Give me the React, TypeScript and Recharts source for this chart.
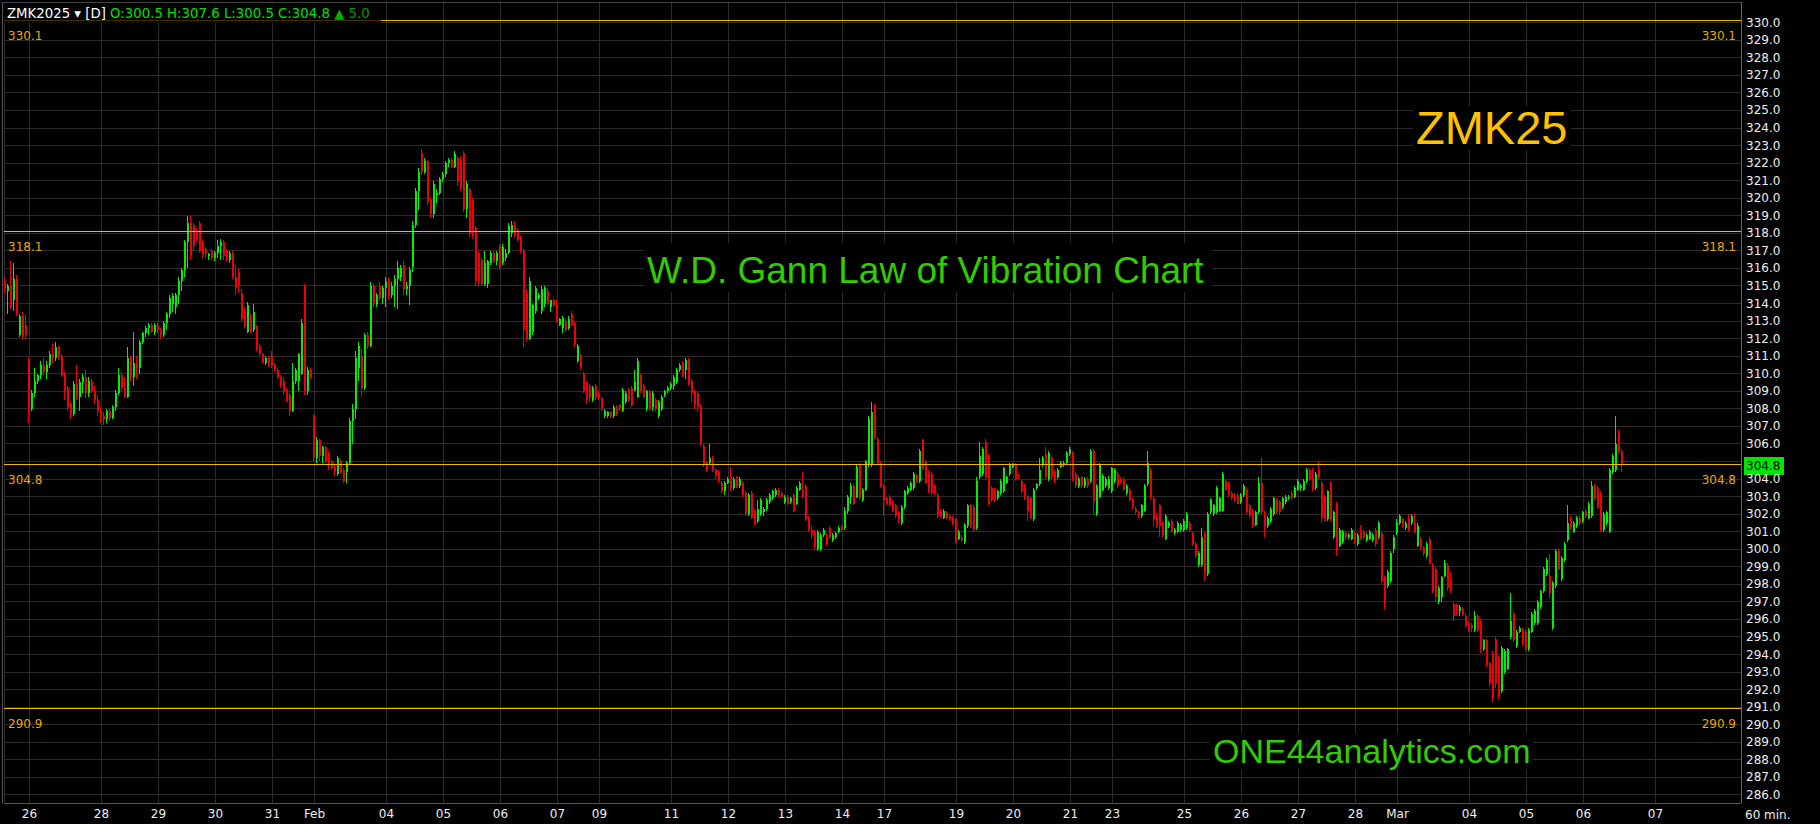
import React from "react";
import { ComposedChart, Bar, XAxis, YAxis, CartesianGrid, ReferenceLine } from "recharts";

type Ohlc = [number, number, number, number];

// 60 min bars per session: [open, high, low, close]
const jan24: Ohlc[] = [
  [315.3, 315.5, 314.6, 314.9], [314.7, 315.1, 313.4, 315.0], [315.0, 316.4, 313.7, 313.8], [314.2, 316.3, 313.6, 315.4],
  [315.4, 315.6, 313.3, 313.4], [312.2, 313.4, 312.1, 313.3], [313.3, 313.5, 312.0, 312.1], [312.8, 313.4, 312.0, 312.2],
];
const jan26: Ohlc[] = [
  [310.8, 310.9, 307.2, 308.0], [308.0, 309.1, 307.9, 308.9], [308.9, 310.3, 308.7, 309.6], [309.6, 310.0, 309.4, 309.9],
  [309.9, 310.7, 309.7, 310.5], [310.5, 310.9, 309.9, 310.1], [310.1, 310.7, 309.7, 310.5], [310.5, 311.3, 310.3, 311.1],
  [311.1, 311.7, 310.6, 310.9], [310.9, 311.8, 310.7, 311.5], [311.5, 311.6, 310.8, 311.0], [311.0, 311.1, 309.8, 309.9],
  [310.0, 310.1, 308.5, 309.0], [309.2, 309.3, 307.9, 308.1], [308.3, 308.4, 307.4, 307.7], [307.7, 309.6, 307.6, 309.4],
  [309.4, 310.5, 308.5, 308.7], [308.7, 309.7, 307.9, 309.5], [309.5, 310.0, 308.9, 309.8], [309.8, 310.2, 308.6, 308.9],
  [308.9, 309.8, 308.7, 309.6], [309.6, 309.7, 308.9, 309.0], [309.0, 309.3, 308.3, 308.5], [308.5, 308.8, 307.6, 307.9],
];
const jan28: Ohlc[] = [
  [307.9, 308.1, 307.2, 307.6], [307.6, 307.8, 307.1, 307.4], [307.4, 308.0, 307.2, 307.9], [307.9, 308.0, 307.3, 307.5],
  [307.5, 308.2, 307.4, 308.1], [308.1, 309.1, 307.9, 308.9], [308.9, 310.3, 308.8, 309.9], [309.9, 310.1, 309.0, 309.2],
  [309.2, 309.8, 308.6, 308.7], [308.7, 311.5, 308.6, 310.9], [310.9, 311.0, 309.6, 309.8], [309.8, 312.4, 309.3, 310.6],
  [310.6, 311.0, 309.7, 310.3], [310.3, 311.9, 310.0, 311.8], [311.8, 312.4, 311.7, 312.3], [312.3, 312.7, 312.1, 312.6],
  [312.6, 312.9, 312.2, 312.8], [312.8, 312.9, 312.3, 312.4], [312.4, 312.9, 312.2, 312.8],
];
const jan29: Ohlc[] = [
  [312.8, 312.9, 312.3, 312.5], [312.5, 312.6, 312.0, 312.2], [312.2, 313.0, 312.1, 312.9], [312.9, 313.5, 312.5, 313.4],
  [313.4, 314.5, 313.2, 314.3], [314.0, 314.6, 313.5, 314.4], [313.8, 314.6, 313.4, 314.5], [314.5, 315.5, 314.0, 315.3],
  [315.3, 316.0, 314.7, 315.9], [315.9, 317.6, 315.5, 317.5], [317.5, 319.0, 316.0, 318.6], [318.6, 319.0, 316.5, 316.7],
  [318.5, 318.6, 317.0, 317.3], [318.2, 318.3, 317.5, 317.6], [318.6, 318.7, 316.9, 317.0], [317.5, 317.6, 316.6, 316.8],
  [317.1, 317.2, 316.6, 316.8], [316.7, 316.9, 316.5, 316.8], [317.0, 317.1, 316.5, 316.6],
];
const jan30: Ohlc[] = [
  [316.6, 317.0, 316.4, 316.9], [316.9, 317.6, 316.6, 317.3], [317.3, 317.7, 316.5, 317.5], [317.5, 317.6, 316.5, 316.7],
  [317.0, 317.1, 316.4, 316.5], [316.5, 317.0, 316.3, 316.9], [316.9, 317.0, 315.4, 315.5], [315.5, 316.2, 314.5, 314.9],
  [315.8, 316.0, 314.6, 315.0], [314.6, 314.8, 313.0, 313.1], [313.6, 313.8, 312.6, 312.7], [312.4, 314.1, 312.3, 313.9],
  [313.3, 313.4, 312.3, 312.4], [312.5, 314.0, 312.4, 313.5], [312.7, 312.8, 311.3, 311.4], [311.6, 311.7, 311.0, 311.1],
  [311.1, 311.2, 310.6, 310.6], [310.6, 311.0, 310.5, 310.9], [310.9, 311.0, 310.4, 310.5],
];
const jan31: Ohlc[] = [
  [311.0, 311.3, 310.3, 310.5], [310.5, 310.6, 310.1, 310.2], [310.2, 310.3, 309.7, 309.8], [309.8, 309.9, 309.2, 309.3],
  [309.6, 309.8, 308.8, 309.0], [309.1, 309.2, 308.4, 308.4], [308.8, 308.9, 307.6, 307.9], [307.9, 310.6, 307.8, 309.6],
  [309.6, 310.3, 309.4, 310.2], [309.6, 311.2, 309.0, 311.1], [310.0, 313.1, 309.9, 312.9], [315.0, 315.1, 308.8, 309.0],
  [309.0, 310.4, 308.8, 310.2], [310.2, 310.3, 309.7, 309.8],
];
const feb2: Ohlc[] = [
  [307.6, 307.7, 305.0, 305.2], [305.2, 306.4, 304.9, 306.2], [306.2, 306.3, 305.0, 305.3], [305.3, 305.9, 304.9, 305.8],
  [305.8, 305.9, 304.9, 305.0], [305.4, 305.6, 304.5, 304.8], [305.0, 305.1, 304.5, 304.6], [304.7, 304.9, 304.2, 304.4],
  [304.3, 305.3, 304.2, 305.2], [305.0, 305.1, 304.3, 304.4], [304.5, 304.6, 303.8, 303.9], [304.4, 305.0, 303.8, 304.9],
  [304.9, 307.5, 304.8, 307.3], [307.3, 308.3, 306.0, 308.0], [308.0, 311.3, 307.4, 310.9], [310.3, 311.8, 309.6, 311.6],
  [311.0, 311.4, 308.7, 309.2], [309.2, 312.3, 309.1, 312.2], [312.2, 312.4, 311.4, 311.6], [311.6, 315.2, 311.5, 315.0],
  [315.0, 315.1, 313.8, 314.0], [314.0, 314.6, 313.8, 314.5], [315.0, 315.2, 314.2, 314.3], [314.3, 315.0, 314.0, 314.9],
];
const feb4: Ohlc[] = [
  [314.9, 315.5, 313.8, 315.3], [315.3, 315.5, 314.2, 314.5], [314.5, 315.2, 314.3, 315.0], [315.0, 315.6, 313.8, 315.4],
  [315.4, 316.4, 313.7, 316.0], [315.5, 316.2, 315.3, 316.0], [316.2, 316.4, 314.5, 314.8], [314.8, 315.2, 314.5, 315.0],
  [315.0, 316.1, 313.9, 315.9], [316.1, 318.7, 315.8, 318.5], [318.5, 320.6, 318.3, 320.4], [320.4, 321.7, 319.3, 321.5],
  [322.6, 322.8, 321.3, 321.5], [321.5, 322.3, 321.4, 322.1], [322.1, 322.2, 319.6, 319.8], [319.9, 320.0, 318.9, 319.1],
  [319.1, 321.0, 318.9, 320.8], [320.2, 320.5, 319.7, 320.3], [320.3, 321.2, 320.2, 321.1],
];
const feb5: Ohlc[] = [
  [321.1, 321.5, 320.9, 321.4], [321.4, 322.1, 321.2, 322.0], [322.0, 322.3, 321.8, 322.2], [322.2, 322.3, 321.7, 321.8],
  [321.8, 322.7, 321.7, 322.5], [322.3, 322.4, 320.7, 320.9], [322.2, 322.4, 320.4, 320.6], [322.6, 322.7, 319.2, 319.4],
  [319.4, 321.0, 318.9, 320.8], [320.5, 320.6, 317.8, 318.0], [319.9, 320.0, 317.7, 317.9], [318.3, 318.4, 315.0, 315.3],
  [316.9, 317.0, 315.0, 315.2], [316.5, 316.6, 315.0, 315.1], [315.1, 317.0, 315.0, 316.3], [315.1, 316.5, 314.9, 316.4],
  [316.3, 317.0, 316.2, 316.9], [316.9, 317.0, 316.3, 316.4], [316.4, 317.0, 316.2, 316.9],
];
const feb6: Ohlc[] = [
  [317.3, 317.4, 315.9, 316.1], [316.3, 317.4, 316.2, 317.2], [316.6, 317.1, 316.4, 316.9], [316.9, 318.6, 316.8, 318.4],
  [318.0, 318.7, 317.8, 318.5], [318.5, 318.7, 317.8, 317.9], [318.2, 318.3, 317.5, 317.6], [317.8, 317.9, 316.9, 317.0],
  [317.0, 317.1, 311.5, 312.5], [314.6, 314.8, 311.8, 312.0], [312.0, 315.5, 311.9, 315.3], [312.4, 314.0, 312.2, 313.9],
  [313.6, 315.0, 313.4, 314.9], [314.3, 314.6, 314.2, 314.5], [313.6, 315.0, 313.4, 314.8], [314.0, 315.0, 313.8, 314.9],
  [314.7, 314.9, 313.9, 314.0], [313.8, 314.2, 313.5, 314.2], [314.2, 314.3, 313.8, 313.9],
];
const feb7: Ohlc[] = [
  [313.9, 314.2, 312.9, 313.0], [312.8, 313.2, 312.7, 313.1], [312.6, 313.3, 312.3, 313.2], [313.0, 313.2, 312.4, 312.5],
  [312.6, 313.3, 312.5, 313.1], [313.4, 313.6, 312.7, 312.8], [312.9, 313.0, 311.5, 311.7], [310.7, 311.7, 310.6, 311.6],
  [311.0, 311.1, 310.2, 310.3], [310.0, 310.1, 308.9, 309.0], [309.5, 309.6, 308.3, 308.5], [309.3, 309.4, 308.4, 308.6],
  [308.5, 309.3, 308.4, 309.2], [309.3, 309.4, 308.5, 308.6],
];
const feb9: Ohlc[] = [
  [308.9, 309.0, 308.5, 308.6], [308.6, 308.7, 307.9, 308.0], [307.6, 308.0, 307.5, 307.9], [307.6, 307.9, 307.5, 307.8],
  [307.8, 307.9, 307.5, 307.6], [307.6, 308.2, 307.5, 308.1], [308.1, 308.2, 307.6, 307.7], [308.2, 308.3, 307.9, 308.0],
  [307.9, 309.2, 307.8, 309.1], [308.4, 309.0, 308.3, 308.9], [309.1, 309.2, 308.4, 308.5], [309.2, 309.3, 308.1, 308.2],
  [309.1, 310.2, 309.0, 309.5], [308.7, 310.9, 308.6, 310.7], [309.9, 310.0, 308.9, 309.0], [309.3, 309.4, 308.6, 308.7],
  [308.0, 309.1, 307.9, 309.0], [309.0, 309.1, 307.9, 308.0], [308.1, 309.0, 307.9, 308.9], [308.5, 308.6, 307.9, 308.0],
  [307.6, 308.5, 307.5, 308.4], [308.0, 308.8, 307.9, 308.7], [308.8, 309.1, 308.7, 309.0], [309.0, 309.3, 308.9, 309.2],
];
const feb11: Ohlc[] = [
  [309.2, 309.5, 309.1, 309.4], [309.3, 309.9, 309.1, 309.8], [309.5, 310.3, 309.4, 310.2], [310.2, 310.6, 310.1, 310.5],
  [310.6, 310.7, 309.8, 309.9], [310.2, 310.9, 309.7, 310.8], [310.8, 310.9, 309.3, 309.4], [309.6, 309.7, 308.4, 308.9],
  [309.0, 309.1, 308.0, 308.2], [308.9, 309.0, 307.8, 308.1], [308.1, 308.3, 305.9, 306.0], [305.9, 306.0, 304.7, 304.8],
  [304.9, 305.0, 304.4, 304.5], [304.9, 306.0, 304.8, 305.2], [305.2, 305.3, 304.4, 304.5], [304.5, 304.6, 304.0, 304.2],
  [304.4, 304.5, 303.8, 303.9], [303.8, 303.9, 303.2, 303.3], [303.3, 303.9, 303.1, 303.8],
];
const feb12: Ohlc[] = [
  [303.8, 304.1, 303.7, 304.0], [304.1, 304.7, 303.3, 303.5], [303.5, 304.1, 303.4, 304.0], [304.0, 304.2, 303.5, 303.6],
  [303.6, 304.1, 303.5, 304.0], [303.8, 303.9, 303.0, 303.1], [303.2, 303.3, 301.9, 302.0], [302.0, 303.2, 301.9, 303.1],
  [303.2, 303.3, 301.7, 301.8], [302.2, 302.3, 301.4, 301.5], [301.6, 302.8, 301.5, 302.3], [302.0, 302.9, 301.9, 302.8],
  [302.1, 302.4, 301.9, 302.3], [302.3, 302.9, 302.2, 302.8], [302.7, 303.2, 302.6, 303.1], [302.9, 303.4, 302.8, 303.3],
  [303.1, 303.5, 303.0, 303.4], [303.4, 303.5, 303.0, 303.1], [303.2, 303.3, 302.9, 303.0],
];
const feb13: Ohlc[] = [
  [302.7, 303.1, 302.6, 303.0], [303.0, 303.1, 302.5, 302.6], [302.7, 303.0, 302.6, 302.9], [303.1, 303.2, 302.1, 302.2],
  [302.6, 303.6, 302.5, 303.5], [303.4, 303.9, 303.3, 303.8], [303.4, 304.4, 302.9, 303.0], [303.6, 303.7, 301.6, 301.7],
  [301.7, 301.9, 301.0, 301.1], [301.1, 301.3, 300.6, 300.8], [301.0, 301.1, 300.0, 300.1], [300.0, 301.1, 299.9, 301.0],
  [300.0, 300.9, 299.9, 300.8], [300.8, 301.2, 300.7, 301.1], [300.8, 300.9, 300.2, 300.3], [301.2, 301.3, 300.6, 300.7],
  [300.5, 300.9, 300.4, 300.8], [300.7, 301.0, 300.6, 300.9], [301.0, 301.3, 300.9, 301.2],
];
const feb14: Ohlc[] = [
  [301.3, 301.4, 301.0, 301.1], [301.2, 302.4, 301.1, 302.2], [302.2, 303.1, 302.0, 303.0], [303.0, 303.8, 302.6, 303.6],
  [303.6, 303.7, 302.5, 302.6], [303.0, 304.8, 302.9, 304.7], [304.8, 304.9, 302.8, 303.0], [302.8, 303.5, 302.7, 303.4],
  [303.4, 305.1, 303.3, 305.0], [304.8, 307.6, 304.7, 307.4], [304.8, 308.4, 304.7, 307.8], [308.2, 308.3, 306.3, 306.4],
  [306.3, 306.4, 304.8, 304.9], [304.9, 305.0, 303.5, 303.6],
];
const feb17: Ohlc[] = [
  [303.6, 303.7, 301.9, 302.8], [302.9, 303.0, 302.5, 302.6], [303.0, 303.1, 302.4, 302.5], [302.7, 302.8, 302.1, 302.2],
  [302.5, 302.6, 301.8, 301.9], [302.1, 302.2, 301.5, 301.7], [301.5, 302.5, 301.4, 302.4], [302.4, 303.4, 302.3, 303.3],
  [303.2, 303.6, 303.1, 303.5], [303.4, 303.9, 303.3, 303.8], [303.5, 304.4, 303.4, 304.3], [304.2, 304.3, 303.8, 303.9],
  [303.9, 305.7, 303.8, 305.6], [306.2, 306.3, 304.5, 304.6], [305.0, 305.1, 303.7, 303.8], [304.4, 304.5, 303.2, 303.3],
  [304.3, 304.4, 303.1, 303.2], [303.6, 303.7, 303.1, 303.2], [303.1, 303.2, 301.8, 301.9], [302.2, 302.3, 301.8, 301.9],
  [301.8, 302.3, 301.7, 302.2], [302.1, 302.2, 301.7, 301.8], [301.9, 302.0, 301.6, 301.7], [301.8, 301.9, 301.4, 301.5],
];
const feb19: Ohlc[] = [
  [301.7, 301.8, 300.3, 300.4], [300.6, 301.1, 300.5, 301.0], [300.7, 300.8, 300.4, 300.5], [300.4, 301.5, 300.3, 301.4],
  [301.3, 302.6, 301.2, 302.5], [302.5, 302.6, 301.2, 301.3], [302.4, 302.5, 301.0, 301.1], [301.2, 304.1, 301.1, 303.9],
  [304.1, 306.1, 304.0, 305.3], [304.3, 305.8, 304.2, 305.7], [306.1, 306.3, 304.0, 304.1], [305.3, 305.4, 302.5, 302.6],
  [303.5, 303.6, 302.7, 302.8], [303.4, 303.5, 302.7, 302.8], [302.9, 303.4, 302.8, 303.3], [303.2, 304.0, 303.1, 303.9],
  [303.3, 304.7, 303.2, 304.6], [303.8, 304.2, 303.7, 304.1], [304.3, 304.9, 304.2, 304.8],
];
const feb20: Ohlc[] = [
  [304.7, 304.9, 304.6, 304.8], [304.8, 304.9, 303.9, 304.0], [304.2, 304.3, 304.0, 304.1], [303.9, 304.0, 303.2, 303.3],
  [303.6, 303.7, 302.8, 302.9], [303.0, 303.1, 301.6, 302.2], [302.9, 303.0, 301.7, 301.8], [301.7, 303.5, 301.6, 303.4],
  [303.5, 303.8, 303.4, 303.7], [303.7, 305.2, 303.6, 304.5], [304.8, 305.3, 304.7, 305.2], [305.4, 305.8, 304.0, 304.1],
  [304.0, 305.6, 303.9, 305.5], [305.2, 305.3, 304.0, 304.1], [304.4, 304.5, 303.8, 303.9], [304.1, 304.6, 304.0, 304.5],
  [304.7, 305.0, 304.6, 304.9], [304.8, 305.0, 304.7, 304.9], [304.9, 305.6, 304.8, 305.5],
];
const feb21: Ohlc[] = [
  [305.4, 305.8, 305.3, 305.7], [305.5, 305.6, 303.9, 304.0], [304.3, 304.4, 303.5, 303.6], [303.6, 304.1, 303.5, 304.0],
  [304.1, 304.2, 303.5, 303.6], [303.6, 304.1, 303.5, 304.0], [304.0, 304.1, 303.5, 303.6], [303.9, 305.7, 303.8, 305.6],
  [305.6, 305.7, 302.0, 302.7], [302.0, 303.7, 301.9, 303.6], [303.0, 304.9, 302.9, 304.8], [303.4, 304.3, 303.3, 304.2],
  [303.6, 304.1, 303.5, 304.0], [303.5, 304.2, 303.4, 304.0],
];
const feb23: Ohlc[] = [
  [303.3, 304.7, 303.2, 304.6], [303.9, 304.6, 303.8, 304.5], [304.3, 304.4, 303.5, 303.6], [304.0, 304.1, 303.7, 303.8],
  [304.0, 304.1, 303.3, 303.4], [303.2, 303.7, 303.1, 303.6], [303.4, 303.5, 302.7, 302.8], [302.8, 302.9, 302.3, 302.4],
  [302.3, 302.4, 302.0, 302.1], [302.1, 302.2, 301.8, 301.9], [301.9, 302.6, 301.8, 302.5], [302.2, 303.7, 302.1, 303.6],
  [303.7, 305.6, 303.6, 304.9], [304.5, 304.6, 302.8, 302.9], [302.9, 303.0, 301.3, 301.7], [301.9, 302.0, 301.2, 301.3],
  [302.5, 302.6, 300.7, 301.3], [301.5, 301.6, 300.7, 300.8], [300.6, 302.0, 300.5, 301.9], [301.3, 301.6, 301.2, 301.5],
  [301.6, 301.7, 300.9, 301.0], [300.9, 301.2, 300.8, 301.1], [301.0, 301.6, 300.9, 301.5], [301.1, 301.5, 301.0, 301.4],
];
const feb25: Ohlc[] = [
  [301.1, 301.7, 301.0, 301.6], [301.2, 302.1, 301.1, 302.0], [301.5, 301.6, 301.0, 301.1], [300.9, 301.0, 300.2, 300.3],
  [300.3, 300.4, 299.5, 299.6], [299.1, 299.9, 299.0, 299.8], [299.1, 301.2, 299.0, 300.7], [300.9, 301.0, 298.2, 298.6],
  [298.6, 302.1, 298.5, 302.0], [302.1, 302.9, 302.0, 302.8], [302.0, 302.6, 301.9, 302.5], [302.1, 303.6, 302.0, 303.5],
  [302.2, 303.0, 302.1, 302.9], [302.2, 304.4, 302.1, 304.3], [303.9, 304.0, 303.3, 303.4], [303.8, 303.9, 303.0, 303.1],
  [303.2, 303.3, 302.8, 302.9], [303.1, 303.2, 302.7, 302.8], [303.1, 303.2, 302.6, 302.6],
];
const feb26: Ohlc[] = [
  [302.7, 303.2, 302.6, 303.1], [303.1, 303.7, 303.0, 303.6], [303.4, 303.5, 302.0, 302.1], [302.5, 302.6, 301.8, 301.9],
  [302.2, 302.3, 301.2, 301.3], [301.4, 302.2, 301.3, 302.1], [302.1, 304.1, 302.0, 303.8], [303.8, 305.2, 302.0, 302.1],
  [302.1, 302.2, 300.7, 301.3], [301.3, 301.9, 301.2, 301.8], [301.6, 302.4, 301.5, 302.3], [302.0, 303.0, 301.9, 302.9],
  [302.8, 302.9, 302.0, 302.1], [302.7, 302.8, 302.0, 302.1], [302.4, 303.0, 302.3, 302.9], [302.7, 303.1, 302.6, 303.0],
  [302.9, 303.1, 302.8, 303.0], [303.2, 303.3, 302.8, 302.9], [303.0, 303.6, 302.9, 303.5],
];
const feb27: Ohlc[] = [
  [303.4, 304.0, 303.3, 303.9], [303.5, 303.7, 303.3, 303.6], [303.4, 304.0, 303.3, 303.9], [303.9, 304.6, 303.8, 304.5],
  [304.5, 304.6, 303.9, 304.0], [304.0, 304.6, 303.3, 303.4], [303.5, 304.4, 303.4, 304.3], [304.5, 305.0, 304.0, 304.1],
  [303.8, 303.9, 301.5, 301.8], [303.0, 303.1, 301.6, 301.7], [301.7, 303.4, 301.6, 303.3], [303.8, 303.9, 301.6, 301.7],
  [300.7, 302.2, 300.6, 302.1], [302.6, 302.7, 299.6, 299.9], [300.2, 301.2, 300.1, 301.1], [300.4, 301.1, 300.3, 301.0],
  [300.9, 301.0, 300.5, 300.7], [300.7, 300.9, 300.6, 300.8], [300.6, 301.2, 300.5, 301.1],
];
const feb28: Ohlc[] = [
  [300.9, 301.0, 300.3, 300.4], [300.3, 300.9, 300.2, 300.8], [301.1, 301.4, 300.5, 300.6], [301.0, 301.1, 300.6, 300.7],
  [300.5, 300.9, 300.4, 300.8], [300.6, 301.1, 300.5, 301.0], [300.5, 300.9, 300.4, 300.8], [301.1, 301.2, 300.1, 300.3],
  [300.7, 301.6, 300.6, 301.5], [300.9, 301.0, 298.1, 298.2], [298.4, 298.5, 296.6, 296.9], [297.9, 298.8, 297.8, 298.7],
  [298.2, 299.9, 298.1, 299.8], [300.0, 300.8, 299.8, 300.7],
];
const mar2: Ohlc[] = [
  [300.9, 301.7, 300.8, 301.5], [301.5, 302.0, 301.4, 301.9], [301.7, 301.8, 301.2, 301.3], [301.2, 301.6, 301.1, 301.5],
  [301.7, 302.0, 301.0, 301.1], [301.5, 302.0, 301.4, 301.9], [301.5, 302.0, 300.9, 301.0], [300.2, 301.5, 300.1, 301.3],
  [300.6, 300.7, 300.0, 300.1], [300.1, 300.2, 299.6, 299.7], [299.6, 300.4, 299.5, 300.3], [300.6, 300.7, 299.1, 299.2],
  [299.1, 299.2, 297.5, 297.6], [298.9, 299.0, 297.0, 297.3], [297.0, 297.9, 296.9, 297.8], [297.3, 298.5, 297.0, 298.4],
  [298.5, 299.4, 298.4, 299.2], [299.1, 299.2, 297.6, 297.8], [298.3, 298.7, 297.5, 297.6], [296.9, 297.0, 295.9, 296.2],
  [296.8, 296.9, 296.2, 296.5], [296.5, 296.8, 296.2, 296.7], [296.6, 296.7, 296.2, 296.3], [296.2, 296.3, 295.5, 295.6],
];
const mar4: Ohlc[] = [
  [295.8, 295.9, 295.3, 295.4], [295.7, 295.8, 295.3, 295.5], [295.4, 296.5, 295.3, 296.2], [296.2, 296.3, 295.3, 295.4],
  [295.9, 296.0, 294.1, 294.3], [294.3, 294.9, 294.2, 294.8], [294.8, 294.9, 293.3, 293.4], [293.5, 293.6, 292.2, 292.4],
  [294.1, 294.2, 291.3, 291.5], [294.9, 295.0, 292.1, 292.3], [293.8, 293.9, 291.4, 291.6], [291.9, 294.5, 291.8, 294.4],
  [293.0, 294.3, 292.9, 294.2], [293.2, 294.4, 293.1, 294.3], [295.0, 297.5, 294.9, 295.9], [296.3, 296.4, 294.7, 294.8],
  [294.5, 295.4, 294.4, 295.3], [295.3, 295.6, 295.2, 295.5], [295.4, 295.5, 294.5, 294.6],
];
const mar5: Ohlc[] = [
  [295.3, 295.4, 294.2, 294.3], [294.3, 295.5, 294.2, 295.4], [295.3, 296.4, 295.2, 296.3], [295.8, 296.6, 295.7, 296.5],
  [295.8, 297.1, 295.7, 297.0], [296.7, 297.7, 296.6, 297.6], [297.6, 299.0, 297.5, 298.9], [298.6, 299.5, 298.5, 299.4],
  [298.5, 299.7, 297.2, 297.5], [295.5, 298.2, 295.4, 298.1], [297.9, 300.0, 297.8, 299.9], [299.9, 300.0, 298.8, 298.9],
  [298.3, 299.6, 298.2, 299.5], [299.4, 300.4, 299.3, 300.3], [300.5, 302.5, 300.4, 301.5], [301.8, 301.9, 301.1, 301.2],
  [301.0, 301.6, 300.9, 301.5], [301.3, 301.9, 301.2, 301.8], [301.8, 301.9, 301.4, 301.5],
];
const mar6: Ohlc[] = [
  [301.6, 302.2, 301.5, 302.1], [302.2, 302.3, 301.8, 301.9], [301.8, 302.7, 301.7, 302.6], [301.9, 303.9, 301.8, 303.6],
  [303.6, 303.7, 302.8, 302.9], [303.5, 303.6, 302.3, 302.4], [303.2, 303.3, 301.0, 301.1], [301.1, 302.1, 301.0, 302.0],
  [301.5, 302.2, 301.4, 302.1], [301.0, 304.6, 300.9, 304.5], [304.4, 305.4, 304.3, 305.3], [304.5, 307.6, 304.4, 306.0],
  [306.6, 306.8, 305.5, 305.6], [305.6, 305.7, 304.4, 304.8],
];

const sessionBars: Ohlc[][] = [
  jan24, jan26, jan28, jan29, jan30, jan31, feb2, feb4, feb5, feb6, feb7, feb9, feb11, feb12, feb13, feb14,
  feb17, feb19, feb20, feb21, feb23, feb25, feb26, feb27, feb28, mar2, mar4, mar5, mar6, [],
];
const sessionLabels = [
  "", "26", "28", "29", "30", "31", "Feb", "04", "05", "06", "07", "09", "11", "12", "13", "14",
  "17", "19", "20", "21", "23", "25", "26", "27", "28", "Mar", "04", "05", "06", "07",
];
// hourly slots per session on the time axis (the last two include empty future slots)
const sessionSlots = [8, 24, 19, 19, 19, 14, 24, 19, 19, 19, 14, 24, 19, 19, 19, 14, 24, 19, 19, 14, 24, 19, 19, 19, 14, 24, 19, 19, 24, 29];

const gannLevels = [330.1, 318.1, 304.8, 290.9];
const priceTicks = [
  286, 287, 288, 289, 290, 291, 292, 293, 294, 295, 296, 297, 298, 299, 300, 301, 302, 303, 304, 305, 306, 307, 308,
  309, 310, 311, 312, 313, 314, 315, 316, 317, 318, 319, 320, 321, 322, 323, 324, 325, 326, 327, 328, 329, 330,
];
const dailyBar = { o: "300.5", h: "307.6", l: "300.5", c: "304.8", chg: "5.0" };

const UP = "#00f000";
const DOWN = "#f00000";
const GOLD = "#f5b800";
const FONT = "DejaVu Sans, sans-serif";
const TITLE_FONT = "Liberation Sans, Arial, sans-serif";

const data: { i: number; o: number; h: number; l: number; c: number }[] = [];
const dayTicks: number[] = [];
const dayTickLabels: Record<number, string> = {};
let slotStart = 0;
sessionSlots.forEach((slots, s) => {
  if (s > 0) {
    dayTicks.push(slotStart);
    dayTickLabels[slotStart] = sessionLabels[s];
  }
  sessionBars[s].forEach(([o, h, l, c], j) => data.push({ i: slotStart + j, o, h, l, c }));
  slotStart += slots;
});
const totalSlots = slotStart;
const lastClose = data[data.length - 1].c;

function Candle(props: any) {
  const { x, y, width, height, payload } = props;
  if (!payload || x == null || y == null) return null;
  const { o, h, l, c } = payload;
  const top = Math.min(y, y + height);
  const span = Math.abs(height);
  const ppu = h > l ? span / (h - l) : 0;
  const cx = Math.round(x + width / 2);
  const bodyTop = top + (h - Math.max(o, c)) * ppu;
  const bodyH = Math.max(1, Math.abs(o - c) * ppu);
  const color = c >= o ? UP : DOWN;
  return (
    <g shapeRendering="crispEdges">
      <rect x={cx - 1} y={top} width={1} height={Math.max(1, span)} fill={color} />
      <rect x={cx - 1} y={bodyTop} width={2} height={bodyH} fill={color} />
    </g>
  );
}

function PriceTick(props: any) {
  const { x, y, payload } = props;
  if (Math.abs(payload.value - lastClose) < 0.5) return null;
  return (
    <text x={x} y={y + 4} fill="#eeeeee" fontSize={12} fontFamily={FONT} textAnchor="start">
      {payload.value.toFixed(1)}
    </text>
  );
}

function LevelLabel(props: any) {
  const { viewBox, value } = props;
  if (!viewBox) return null;
  const txt = value.toFixed(1);
  return (
    <g>
      <text x={viewBox.x + 4} y={viewBox.y + 19} fill="#e8a800" fontSize={12} fontFamily={FONT}>{txt}</text>
      <text x={viewBox.x + viewBox.width - 5} y={viewBox.y + 19} fill="#e8a800" fontSize={12} fontFamily={FONT} textAnchor="end">
        {txt}
      </text>
    </g>
  );
}

function PriceTag(props: any) {
  const { viewBox, value } = props;
  if (!viewBox) return null;
  const x = viewBox.x + viewBox.width + 3;
  return (
    <g>
      <rect x={x} y={viewBox.y - 8} width={40} height={18} fill="#00e600" />
      <text x={x + 2} y={viewBox.y + 5} fill="#000" fontSize={12} fontFamily={FONT}>{value.toFixed(1)}</text>
    </g>
  );
}

export default function App() {
  return (
    <div style={{ position: "fixed", left: 0, top: 0, width: 1820, height: 824, background: "#000" }}>
      <ComposedChart width={1820} height={824} data={data} margin={{ top: 2, right: 0, bottom: 0, left: 4 }}>
        <CartesianGrid stroke="#2b2b2b" shapeRendering="crispEdges" />
        <XAxis
          type="number"
          dataKey="i"
          domain={[-0.5, totalSlots - 0.5]}
          ticks={dayTicks}
          interval={0}
          allowDataOverflow
          tickFormatter={(v: number) => dayTickLabels[v] ?? ""}
          height={21}
          tickLine={false}
          tickSize={0}
          tickMargin={6}
          axisLine={{ stroke: "#555", shapeRendering: "crispEdges" }}
          tick={{ fill: "#eeeeee", fontSize: 12, fontFamily: FONT }}
        />
        <YAxis
          orientation="right"
          type="number"
          domain={[285.54, 331.18]}
          ticks={priceTicks}
          interval={0}
          allowDataOverflow
          width={79}
          tickLine={false}
          tickSize={0}
          tickMargin={5}
          axisLine={{ stroke: "#666", shapeRendering: "crispEdges" }}
          tick={<PriceTick />}
        />
        {gannLevels.map((lv) => (
          <ReferenceLine
            key={lv}
            y={lv}
            stroke={GOLD}
            strokeWidth={1}
            shapeRendering="crispEdges"
            label={<LevelLabel value={lv} />}
          />
        ))}
        <Bar
          dataKey={(d: any) => [d.l, d.h]}
          barSize={3}
          shape={(p: any) => <Candle {...p} />}
          isAnimationActive={false}
        />
        <ReferenceLine y={lastClose} stroke="none" strokeOpacity={0} label={<PriceTag value={lastClose} />} />
      </ComposedChart>
      <svg width={1820} height={824} style={{ position: "absolute", left: 0, top: 0, pointerEvents: "none" }}>
        <line x1={2.5} y1={2} x2={2.5} y2={803} stroke="#555" />
        <line x1={2} y1={2.5} x2={1741} y2={2.5} stroke="#444" />
        <rect x={3} y={3} width={378} height={20} fill="#000" fillOpacity={0.72} />
        <text x={7} y={18} fontSize={13.3} fontFamily={FONT}>
          <tspan fill="#ffffff">ZMK2025 ▾ [D] </tspan>
          <tspan fill="#00e000">{`O:${dailyBar.o} H:${dailyBar.h} L:${dailyBar.l} C:${dailyBar.c} `}</tspan>
          <tspan fill="#00b000">▲</tspan>
          <tspan fill="#009a00">{` ${dailyBar.chg}`}</tspan>
        </text>
        <rect x={644} y={243} width={568} height={49} fill="#000" />
        <text x={647} y={283} fontSize={37} fill="#33cc00" fontFamily={TITLE_FONT}>W.D. Gann Law of Vibration Chart</text>
        <rect x={1413} y={106} width={158} height={44} fill="#000" />
        <text x={1416} y={144} fontSize={47} fill="#ffc000" fontFamily={TITLE_FONT}>ZMK25</text>
        <rect x={1210} y={733} width={323} height={36} fill="#000" />
        <text x={1213} y={763} fontSize={34} fill="#33cc00" fontFamily={TITLE_FONT}>ONE44analytics.com</text>
        <text x={1745} y={819} fontSize={12} fill="#eeeeee" fontFamily={FONT}>60 min.</text>
      </svg>
    </div>
  );
}
